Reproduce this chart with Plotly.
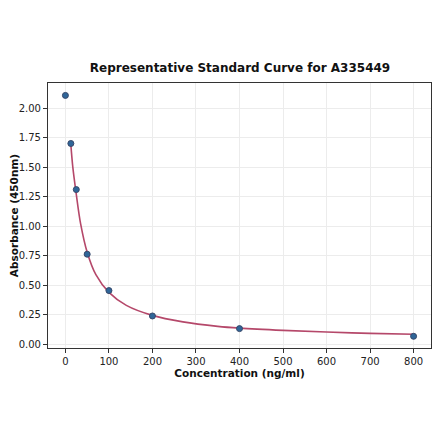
import plotly.graph_objects as go

conc = [0, 12.5, 25, 50, 100, 200, 400, 800]
absorb = [2.107, 1.70, 1.31, 0.763, 0.455, 0.24, 0.133, 0.068]

# fitted curve
fit_x = [12.5, 17, 25, 35, 50, 70, 100, 140, 200, 270, 350, 400, 500, 600, 700, 800]
fit_y = [1.69, 1.50, 1.27, 1.02, 0.78, 0.59, 0.44, 0.33, 0.245, 0.19, 0.152, 0.137, 0.118, 0.104, 0.093, 0.085]

xticks = [0, 100, 200, 300, 400, 500, 600, 700, 800]
yticks = [0.0, 0.25, 0.5, 0.75, 1.0, 1.25, 1.5, 1.75, 2.0]

fig = go.Figure()
fig.add_trace(go.Scatter(x=fit_x, y=fit_y, mode="lines", line_shape="spline",
                         line=dict(color="#b5486a", width=1.6), hoverinfo="skip"))
fig.add_trace(go.Scatter(x=conc, y=absorb, mode="markers",
                         marker=dict(size=6, color="#2f6699", line=dict(color="#38486a", width=1))))

axis_style = dict(showline=True, linecolor="#333333", linewidth=1.2, mirror=True,
                  ticks="outside", ticklen=4, tickcolor="#333333", automargin=False,
                  showgrid=True, gridcolor="#ececec", gridwidth=0.8, zeroline=False,
                  tickfont=dict(family="DejaVu Sans", size=10, color="#222222"))

# page body has an 8px margin, so the figure is 16px smaller than the window
W, H = 424, 425
fig.update_layout(
    width=W, height=H,
    margin=dict(l=40, r=1, t=75, b=85),
    plot_bgcolor="white", paper_bgcolor="white",
    showlegend=False,
    title=dict(text="<b>Representative Standard Curve for A335449</b>",
               x=232 / W, xanchor="center", y=1 - 60 / H, yanchor="middle",
               font=dict(family="DejaVu Sans", size=12, color="#111111")),
    xaxis=dict(axis_style, range=[-40, 840], tickvals=xticks,
               title=dict(text="<b>Concentration (ng/ml)</b>", standoff=0,
                          font=dict(family="DejaVu Sans", size=10.5, color="#111111"))),
    yaxis=dict(axis_style, range=[-0.031, 2.212], tickvals=yticks, tickformat=".2f",
               title=dict(text="<b>Absorbance (450nm)</b>", standoff=3,
                          font=dict(family="DejaVu Sans", size=10.5, color="#111111"))),
)

fig.write_html("out.html")
